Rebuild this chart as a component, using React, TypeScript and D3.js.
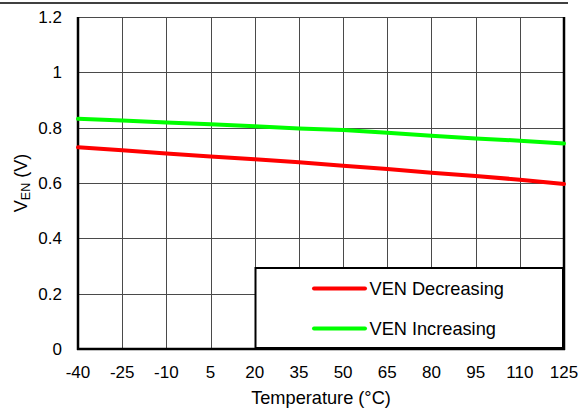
import React from "react";
import * as d3 from "d3";

const temps = [-40, -25, -10, 5, 20, 35, 50, 65, 80, 95, 110, 125];
const venIncreasing = [0.832, 0.826, 0.819, 0.812, 0.805, 0.797, 0.792, 0.782, 0.771, 0.761, 0.753, 0.743];
const venDecreasing = [0.729, 0.718, 0.707, 0.696, 0.686, 0.675, 0.662, 0.651, 0.637, 0.625, 0.612, 0.596];
const xTicks = [-40, -25, -10, 5, 20, 35, 50, 65, 80, 95, 110, 125];
const yTicks = [0, 0.2, 0.4, 0.6, 0.8, 1, 1.2];
const seriesNames = ["VEN Decreasing", "VEN Increasing"];
const seriesColors = ["#ff0000", "#00ff00"];

const W = 579, H = 410;
const L = 78, R = 564, T = 17, B = 349;

export default function App() {
  const x = d3.scaleLinear().domain([-40, 125]).range([L, R]);
  const y = d3.scaleLinear().domain([0, 1.2]).range([B, T]);
  const line = d3.line<number>().x((_, i) => x(temps[i])).y((d) => y(d));
  const font = "Arial, 'Liberation Sans', sans-serif";
  const series = [venDecreasing, venIncreasing];
  return (
    <svg width={W} height={H} style={{ position: "absolute", left: 0, top: 0 }} fontFamily={font}>
      <rect x={0} y={0} width={W} height={H} fill="#fff" />
      <line x1={0} x2={568} y1={3} y2={3} stroke="#000" strokeWidth={1.5} />
      {yTicks.slice(1).map((t) => (
        <line key={"h" + t} x1={L} x2={R} y1={Math.round(y(t)) + 0.5} y2={Math.round(y(t)) + 0.5} stroke="#4a4a4a" strokeWidth={1} />
      ))}
      {xTicks.slice(1, -1).map((t) => (
        <line key={"v" + t} x1={Math.round(x(t)) + 0.5} x2={Math.round(x(t)) + 0.5} y1={T} y2={B} stroke="#4a4a4a" strokeWidth={1} />
      ))}
      <line x1={L} x2={L} y1={T} y2={B + 1} stroke="#000" strokeWidth={2.5} />
      <line x1={R} x2={R} y1={T} y2={B + 1} stroke="#000" strokeWidth={2.5} />
      <line x1={L - 1} x2={R + 1} y1={B} y2={B} stroke="#000" strokeWidth={2.5} />
      {series.map((s, i) => (
        <path key={i} d={line(s) || ""} fill="none" stroke={seriesColors[i]} strokeWidth={4} strokeLinecap="round" />
      ))}
      <rect x={255.5} y={268} width={307.5} height={80} fill="#fff" stroke="#000" strokeWidth={2} />
      {seriesNames.map((n, i) => (
        <g key={n}>
          <line x1={314} x2={365} y1={288.5 + i * 40} y2={288.5 + i * 40} stroke={seriesColors[i]} strokeWidth={4} strokeLinecap="round" />
          <text x={369.5} y={295} fontSize={18.2} fill="#000" dy={i * 40}>{n}</text>
        </g>
      ))}
      {yTicks.map((t) => (
        <text key={"yt" + t} x={62} y={y(t) + 6} fontSize={17} textAnchor="end" fill="#000">{String(t)}</text>
      ))}
      {xTicks.map((t) => (
        <text key={"xt" + t} x={x(t)} y={378} fontSize={17} textAnchor="middle" fill="#000">{String(t)}</text>
      ))}
      <text x={321} y={404} fontSize={18.2} textAnchor="middle" fill="#000">Temperature (°C)</text>
      <text transform={`translate(27,${183}) rotate(-90)`} fontSize={18} textAnchor="middle" fill="#000">
        V<tspan fontSize={12.5} dy={3}>EN</tspan><tspan dy={-3}> (V)</tspan>
      </text>
    </svg>
  );
}
